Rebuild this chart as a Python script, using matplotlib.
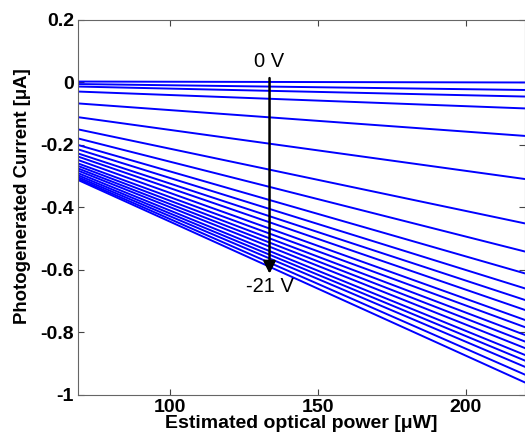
import matplotlib
matplotlib.use("Agg")
import matplotlib.pyplot as plt
import numpy as np

# optical power endpoints [uW]
power = [69, 220]
# photocurrent [uA] at the two power endpoints for each bias 0 V .. -21 V
current_start = [0.003, -0.005, -0.013, -0.029, -0.067, -0.111, -0.150, -0.179,
                 -0.200, -0.214, -0.227, -0.237, -0.248, -0.259, -0.267, -0.275,
                 -0.282, -0.290, -0.297, -0.303, -0.308, -0.312]
current_end = [0.000, -0.024, -0.045, -0.083, -0.171, -0.309, -0.451, -0.541,
               -0.611, -0.659, -0.696, -0.728, -0.760, -0.783, -0.808, -0.829,
               -0.850, -0.872, -0.890, -0.910, -0.935, -0.960]
yticks = [-1, -0.8, -0.6, -0.4, -0.2, 0, 0.2]
ytick_labels = ["-1", "-0.8", "-0.6", "-0.4", "-0.2", "0", "0.2"]
xticks = [100, 150, 200]

plt.rcParams['font.family'] = ['Liberation Sans', 'DejaVu Sans']
fig = plt.figure(figsize=(5.25, 4.43), dpi=100)
ax = fig.add_axes([0.1486, 0.1084, 0.8514, 0.8465])

for s, e in zip(current_start, current_end):
    ax.plot(power, [s, e], color='#0000ff', lw=1.4)

ax.set_xlim(69, 220)
ax.set_ylim(-1, 0.2)
ax.set_yticks(yticks)
ax.set_yticklabels(ytick_labels)
ax.set_xticks(xticks)
ax.tick_params(direction='in', top=True, right=True, length=4, width=0.8,
               colors='#444444', labelcolor='black', labelsize=14, pad=3)
for lab in ax.get_xticklabels() + ax.get_yticklabels():
    lab.set_fontweight('bold')
for sp in ax.spines.values():
    sp.set_color('#666666')
    sp.set_linewidth(0.8)

ax.set_xlabel("Estimated optical power [\u03bcW]", fontsize=14, fontweight='bold', labelpad=-1)
ax.set_ylabel("Photogenerated Current [\u03bcA]", fontsize=13.4, fontweight='bold')
ax.yaxis.set_label_coords(-0.105, 0.529)

ax.annotate("", xy=(133.7, -0.612), xytext=(133.7, 0.014),
            arrowprops=dict(arrowstyle='-|>', color='black', lw=1.8,
                            mutation_scale=18, shrinkA=0, shrinkB=0))
ax.text(133.7, 0.066, "0 V", ha='center', va='center', fontsize=14.5)
ax.text(133.7, -0.654, "-21 V", ha='center', va='center', fontsize=14.5)

fig.savefig("out.png", dpi=100)
